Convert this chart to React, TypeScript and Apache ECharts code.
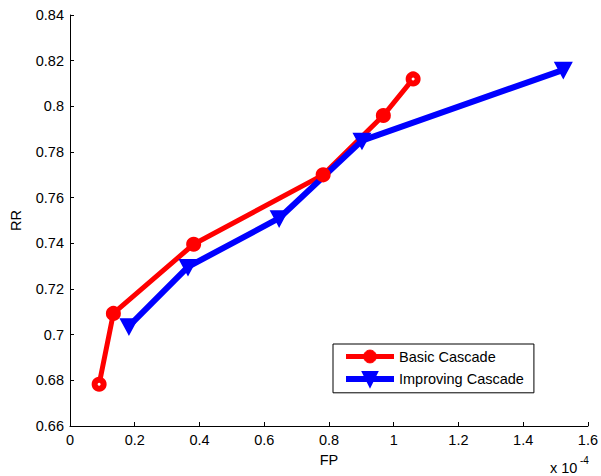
import React, { useEffect, useRef } from "react";
import * as echarts from "echarts";

// FP values are in units of 1e-4 (axis shows "x 10^-4")
const basicFP = [0.09, 0.134, 0.382, 0.782, 0.968, 1.06];
const basicRR = [0.6783, 0.7093, 0.7396, 0.770, 0.796, 0.812];
const improvFP = [0.182, 0.3645, 0.646, 0.902, 1.524];
const improvRR = [0.7037, 0.7297, 0.751, 0.785, 0.816];
const seriesNames = ["Basic Cascade", "Improving Cascade"];

const FONT = "Liberation Sans, Arial, Helvetica, sans-serif";
const FS = 14.5;

export default function App() {
  const ref = useRef<HTMLDivElement>(null);
  useEffect(() => {
    const chart = echarts.init(ref.current!, null, { renderer: "svg" });
    const basicData = basicFP.map((x, i) => {
      const item: any = { value: [x, basicRR[i]] };
      if (i === 0 || i === basicFP.length - 1) item.itemStyle = { color: "#ffffff" };
      return item;
    });
    const improvData = improvFP.map((x, i) => [x, improvRR[i]]);
    chart.setOption({
      animation: false,
      backgroundColor: "#ffffff",
      grid: { left: 68, right: 12, top: 15, bottom: 50, containLabel: false },
      xAxis: {
        type: "value",
        min: 0,
        max: 1.6,
        interval: 0.2,
        name: "FP",
        nameLocation: "middle",
        nameGap: 26,
        nameTextStyle: { color: "#000", fontSize: FS, fontFamily: FONT },
        axisLine: { show: true, onZero: false, lineStyle: { color: "#000", width: 1 } },
        axisTick: { show: true, inside: true, length: 4, lineStyle: { color: "#000" } },
        axisLabel: { color: "#000", fontSize: FS, fontFamily: FONT, margin: 6 },
        splitLine: { show: false },
      },
      yAxis: {
        type: "value",
        min: 0.66,
        max: 0.84,
        interval: 0.02,
        name: "RR",
        nameLocation: "middle",
        nameGap: 47,
        nameTextStyle: { color: "#000", fontSize: FS, fontFamily: FONT },
        axisLine: { show: true, onZero: false, lineStyle: { color: "#000", width: 1 } },
        axisTick: { show: true, inside: true, length: 4, lineStyle: { color: "#000" } },
        axisLabel: { color: "#000", fontSize: FS, fontFamily: FONT, margin: 6 },
        splitLine: { show: false },
      },
      legend: {
        orient: "vertical",
        left: 333,
        top: 344,
        padding: [5, 10, 6, 10],
        itemWidth: 48,
        itemHeight: 16,
        itemGap: 7,
        borderColor: "#000",
        borderWidth: 1,
        borderRadius: 0,
        backgroundColor: "#fff",
        textStyle: { color: "#000", fontSize: FS, fontFamily: FONT },
        data: [
          {
            name: seriesNames[0],
            lineStyle: { width: 5, color: "#ff0000" },
            itemStyle: { color: "#ff0000", borderColor: "#ff0000", borderWidth: 1 },
          },
          {
            name: seriesNames[1],
            lineStyle: { width: 6, color: "#0000ff" },
            itemStyle: { color: "#0000ff", borderColor: "#0000ff", borderWidth: 3 },
          },
        ],
      },
      series: [
        {
          name: seriesNames[0],
          type: "line",
          data: basicData,
          symbol: "circle",
          symbolSize: 9,
          lineStyle: { color: "#ff0000", width: 5 },
          itemStyle: { color: "#ff0000", borderColor: "#ff0000", borderWidth: 6 },
          emphasis: { disabled: true },
        },
        {
          name: seriesNames[1],
          type: "line",
          data: improvData,
          symbol: "triangle",
          symbolRotate: 180,
          symbolSize: [14, 13],
          lineStyle: { color: "#0000ff", width: 6 },
          itemStyle: { color: "#0000ff", borderColor: "#0000ff", borderWidth: 3 },
          emphasis: { disabled: true },
        },
      ],
      graphic: [
        {
          type: "text",
          left: 550,
          top: 460,
          style: { text: "x 10", fill: "#000", fontSize: FS, fontFamily: FONT },
        },
        {
          type: "text",
          left: 580,
          top: 455,
          style: { text: "-4", fill: "#000", fontSize: 10, fontFamily: FONT },
        },
      ],
    });
    return () => chart.dispose();
  }, []);
  return <div ref={ref} style={{ width: 601, height: 476, position: "absolute", left: 0, top: 0 }} />;
}
